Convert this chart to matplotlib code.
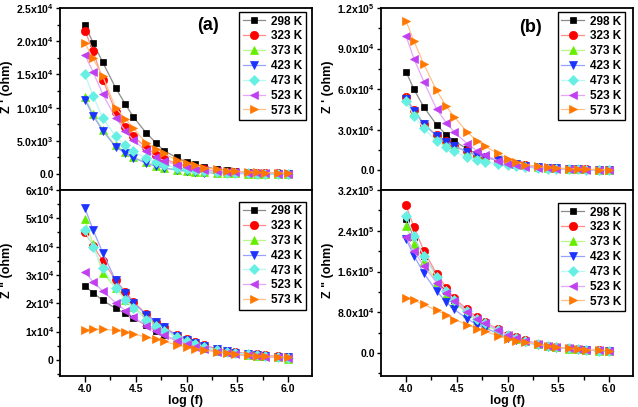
import matplotlib
matplotlib.use("Agg")
import matplotlib.pyplot as plt
from matplotlib.ticker import FixedLocator, FixedFormatter, MultipleLocator
import matplotlib.colors as mcolors

plt.rcParams['font.family'] = ['Liberation Sans', 'DejaVu Sans']
plt.rcParams['font.weight'] = 'bold'
plt.rcParams['mathtext.fontset'] = 'custom'
plt.rcParams['mathtext.rm'] = 'Liberation Sans:bold'
plt.rcParams['mathtext.bf'] = 'Liberation Sans:bold'
plt.rcParams['mathtext.default'] = 'bf'

# ---------------- data ----------------
logf = [4.0, 4.079, 4.176, 4.301, 4.398, 4.477, 4.602, 4.699, 4.778, 4.903, 5.0,
        5.079, 5.176, 5.301, 5.398, 5.477, 5.602, 5.699, 5.778, 5.903, 6.0]
temps = ["298 K", "323 K", "373 K", "423 K", "473 K", "523 K", "573 K"]

a_zre = {
    "298 K": [22400, 19800, 16800, 13000, 10500, 8600, 6200, 4700, 3500, 2500, 1800, 1450, 1100, 750, 550, 450, 300, 220, 170, 130, 100],
    "323 K": [21600, 18500, 14200, 9400, 7100, 5700, 4000, 2900, 2300, 1600, 1200, 950, 700, 450, 350, 280, 200, 150, 120, 90, 70],
    "373 K": [11600, 9000, 6700, 4300, 3250, 2600, 1750, 1250, 950, 650, 450, 350, 250, 170, 130, 100, 70, 50, 40, 30, 20],
    "423 K": [11200, 8800, 6500, 4100, 3100, 2450, 1650, 1150, 900, 600, 420, 320, 230, 160, 120, 90, 60, 45, 35, 25, 20],
    "473 K": [15000, 11800, 8400, 5700, 4300, 3400, 2400, 1850, 1400, 950, 700, 550, 400, 270, 200, 160, 110, 80, 60, 45, 35],
    "523 K": [17900, 15400, 12000, 8500, 6500, 5100, 3500, 2600, 2000, 1400, 1000, 800, 580, 400, 300, 240, 170, 130, 100, 75, 60],
    "573 K": [19700, 17400, 14700, 10000, 8300, 6900, 4700, 3800, 3100, 2100, 1600, 1300, 950, 700, 520, 430, 300, 240, 200, 150, 130],
}
b_zre = {
    "298 K": [73000, 59700, 46700, 33600, 26100, 21600, 15700, 12000, 10000, 7000, 5000, 4000, 3000, 2000, 1500, 1200, 800, 600, 450, 300, 200],
    "323 K": [54000, 44300, 34500, 25800, 21200, 18100, 13800, 11300, 9900, 7600, 5900, 4800, 3600, 2500, 1800, 1400, 900, 700, 500, 350, 250],
    "373 K": [53500, 44000, 34200, 25500, 21000, 17900, 13600, 11100, 9700, 7400, 5700, 4600, 3500, 2400, 1700, 1300, 850, 650, 480, 330, 230],
    "423 K": [53000, 43700, 34000, 25300, 20800, 17700, 13400, 10900, 9500, 7200, 5600, 4500, 3400, 2300, 1650, 1250, 820, 620, 460, 320, 220],
    "473 K": [50800, 40300, 31000, 21300, 17000, 13800, 9500, 7500, 6300, 4600, 3500, 2900, 2200, 1600, 1200, 950, 650, 500, 380, 260, 180],
    "523 K": [99500, 82300, 65500, 45200, 35000, 28000, 19700, 14300, 11300, 7000, 4600, 3600, 2600, 1800, 1300, 1000, 700, 530, 400, 280, 200],
    "573 K": [110500, 95300, 78500, 59000, 47200, 39300, 28300, 21700, 17500, 12600, 8200, 6000, 4000, 2700, 2000, 1600, 1000, 800, 600, 400, 300],
}
a_zim = {
    "298 K": [26100, 23700, 21000, 18200, 16400, 14800, 12200, 10200, 8700, 6800, 5600, 4700, 3800, 2900, 2400, 2000, 1600, 1300, 1100, 900, 700],
    "323 K": [45000, 40300, 35000, 28200, 24000, 20500, 16300, 13400, 11500, 8900, 7400, 6200, 5100, 3900, 3300, 2800, 2200, 1900, 1600, 1200, 1000],
    "373 K": [49600, 40900, 30600, 25500, 21300, 18700, 15000, 12500, 10900, 8000, 6300, 5300, 4300, 3300, 2700, 2300, 1700, 1400, 1200, 900, 400],
    "423 K": [53600, 46000, 37700, 28200, 23500, 20200, 16000, 13300, 11500, 8500, 7000, 5900, 4800, 3700, 3100, 2600, 2000, 1700, 1400, 1100, 900],
    "473 K": [45900, 39700, 32400, 25500, 21000, 18400, 14200, 11900, 10300, 7900, 6500, 5500, 4500, 3500, 2900, 2500, 1900, 1600, 1300, 1000, 800],
    "523 K": [31200, 27600, 24300, 20200, 17400, 15100, 12100, 10100, 8700, 6800, 5600, 4700, 3800, 2900, 2400, 2000, 1600, 1300, 1100, 850, 700],
    "573 K": [10700, 10800, 10900, 10400, 9800, 9200, 8000, 7200, 6500, 5300, 4600, 4000, 3400, 2800, 2300, 2000, 1700, 1300, 1200, 1000, 900],
}
b_zim = {
    "298 K": [263000, 227000, 191000, 151000, 122000, 104000, 82000, 68000, 58500, 45500, 35000, 29500, 24000, 17800, 14000, 12000, 9000, 7500, 6300, 5000, 4000],
    "323 K": [289600, 247000, 200700, 156000, 128400, 107300, 85500, 70300, 60500, 47400, 36100, 30800, 24900, 18400, 14400, 12400, 9100, 7900, 6600, 5300, 4000],
    "373 K": [249000, 214000, 181000, 140200, 113800, 98800, 78800, 65000, 56000, 43500, 33500, 28500, 23000, 17000, 13500, 11500, 8600, 7200, 6000, 4800, 3800],
    "423 K": [223800, 190800, 156600, 121700, 100000, 85500, 67200, 55900, 49400, 38700, 29600, 25500, 21000, 15800, 12600, 10800, 8200, 6900, 5800, 4600, 3700],
    "473 K": [269800, 230300, 190800, 149400, 121700, 103300, 82200, 67800, 58500, 45400, 34800, 29500, 24000, 17800, 14000, 12000, 9000, 7500, 6300, 5000, 4000],
    "523 K": [227000, 199500, 171000, 138300, 117100, 102000, 81000, 67800, 58500, 46000, 35500, 30000, 24500, 18000, 14200, 12200, 9000, 7600, 6400, 5100, 4000],
    "573 K": [108600, 103300, 95400, 83600, 74300, 65800, 55900, 48000, 42700, 34200, 27700, 24300, 20900, 17000, 13800, 11800, 9100, 7900, 6600, 5300, 4600],
}

a_zre_ticks = [0, 5000, 10000, 15000, 20000, 25000]
a_zre_labels = ["0.0", "5.0x10$^{3}$", "1.0x10$^{4}$", "1.5x10$^{4}$", "2.0x10$^{4}$", "2.5x10$^{4}$"]
b_zre_ticks = [0, 30000, 60000, 90000, 120000]
b_zre_labels = ["0.0", "3.0x10$^{4}$", "6.0x10$^{4}$", "9.0x10$^{4}$", "1.2x10$^{5}$"]
a_zim_ticks = [0, 10000, 20000, 30000, 40000, 50000, 60000]
a_zim_labels = ["0", "1x10$^{4}$", "2x10$^{4}$", "3x10$^{4}$", "4x10$^{4}$", "5x10$^{4}$", "6x10$^{4}$"]
b_zim_ticks = [0, 80000, 160000, 240000, 320000]
b_zim_labels = ["0.0", "8.0x10$^{4}$", "1.6x10$^{5}$", "2.4x10$^{5}$", "3.2x10$^{5}$"]
x_ticks = [4.0, 4.5, 5.0, 5.5, 6.0]
x_labels = ["4.0", "4.5", "5.0", "5.5", "6.0"]

# ---------------- style ----------------
colors = ["#000000", "#ff0000", "#66ee00", "#1a33ff", "#66f0e4", "#c040f0", "#ff7700"]
markers = ["s", "o", "^", "v", "D", "<", ">"]
msizes = [5.0, 6.0, 6.0, 6.0, 5.0, 6.0, 6.0]

def light(c, f=0.5):
    r, g, b = mcolors.to_rgb(c)
    return (r + (1 - r) * f, g + (1 - g) * f, b + (1 - b) * f)

W, H = 638, 407
fig = plt.figure(figsize=(W / 100, H / 100), dpi=100)

def rect(x0, x1, y0, y1):
    return [x0 / W, 1 - y1 / H, (x1 - x0) / W, (y1 - y0) / H]

panels = [
    (rect(60, 312, 8, 190), a_zre, (-2400, 25000), a_zre_ticks, a_zre_labels, "Z ' (ohm)", False, "(a)", (0.587, 0.905), 0.976, 0.978),
    (rect(381, 633, 8, 190), b_zre, (-14700, 120000), b_zre_ticks, b_zre_labels, "Z ' (ohm)", False, "(b)", (0.595, 0.895), 0.967, 0.978),
    (rect(60, 312, 190, 376), a_zim, (-5700, 60000), a_zim_ticks, a_zim_labels, 'Z " (ohm)', True, None, None, 0.976, 0.937),
    (rect(381, 633, 190, 376), b_zim, (-45000, 320000), b_zim_ticks, b_zim_labels, 'Z " (ohm)', True, None, None, 0.967, 0.93),
]

for (pos, data, ylim, yt, ylab, ylabel, bottom, tag, tagpos, lx, ly) in panels:
    ax = fig.add_axes(pos)
    for i, t in enumerate(temps):
        ax.plot(logf, data[t], color=light(colors[i], 0.55), lw=0.9,
                marker=markers[i], ms=msizes[i], mfc=colors[i], mec=colors[i],
                mew=0.5, label=t)
    ax.set_xlim(3.754, 6.236)
    ax.set_ylim(*ylim)
    ax.xaxis.set_major_locator(FixedLocator(x_ticks))
    ax.xaxis.set_minor_locator(MultipleLocator(0.25))
    ax.yaxis.set_major_locator(FixedLocator(yt))
    ax.yaxis.set_major_formatter(FixedFormatter(ylab))
    step = yt[1] - yt[0]
    ax.yaxis.set_minor_locator(MultipleLocator(step / 2))
    if bottom:
        ax.xaxis.set_major_formatter(FixedFormatter(x_labels))
        ax.set_xlabel("log (f)", fontsize=9, fontweight='bold', labelpad=1)
    else:
        ax.set_xticklabels([])
    ax.tick_params(which='both', direction='out', width=1.0, labelsize=7.5, pad=1.5)
    ax.tick_params(axis='x', which='major', length=4)
    ax.tick_params(axis='x', which='minor', length=3)
    ax.tick_params(axis='y', which='major', length=3)
    ax.tick_params(axis='y', which='minor', length=2)
    for sp in ax.spines.values():
        sp.set_linewidth(1.3)
    ax.set_ylabel(ylabel, fontsize=9, fontweight='bold')
    ax.yaxis.set_label_coords(-0.187, 0.57)
    if tag:
        ax.text(tagpos[0], tagpos[1], tag, transform=ax.transAxes, fontsize=13,
                fontweight='bold', ha='center', va='center')
    leg = ax.legend(loc='upper right', bbox_to_anchor=(lx, ly), borderaxespad=0,
                    fontsize=8.5, frameon=True, fancybox=False, framealpha=1,
                    edgecolor='black', handlelength=1.9, handletextpad=0.5,
                    labelspacing=0.24, borderpad=0.3)
    leg.get_frame().set_linewidth(1.0)
    for txt in leg.get_texts():
        txt.set_fontweight('bold')

fig.savefig("out.png", dpi=100)
